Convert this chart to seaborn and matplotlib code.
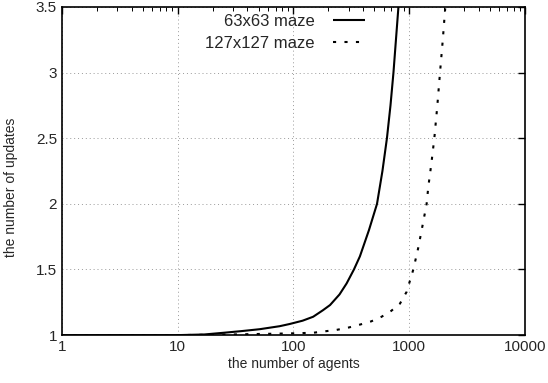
import numpy as np
import pandas as pd
import matplotlib
matplotlib.use("Agg")
import matplotlib.pyplot as plt
import seaborn as sns
from matplotlib.ticker import FixedLocator, LogLocator, NullFormatter

# ── Data ─────────────────────────────────────────────────────────────────────
agents_63 = [1, 10, 17, 25, 35, 51, 76, 93, 120, 148, 180, 207, 250, 288, 333,
             375, 449, 527, 587, 642, 689, 731, 768, 807]
updates_63 = [1.0, 1.0, 1.005, 1.018, 1.03, 1.045, 1.068, 1.085, 1.11, 1.14, 1.19, 1.229, 1.31, 1.394, 1.5,
              1.6, 1.8, 2.0, 2.25, 2.5, 2.75, 3.0, 3.25, 3.5]

agents_127 = [1, 10, 30, 93, 148, 236, 300, 375, 470, 577, 700, 832, 950, 1085,
              1200, 1300, 1414, 1462, 1550, 1648, 1750, 1845, 1950, 2050]
updates_127 = [1.0, 1.0, 1.005, 1.013, 1.018, 1.04, 1.058, 1.08, 1.105, 1.14, 1.185, 1.24, 1.33, 1.5,
               1.67, 1.83, 2.0, 2.13, 2.3, 2.5, 2.75, 3.0, 3.25, 3.5]

labels = ["63x63 maze", "127x127 maze"]
x_ticks = [1, 10, 100, 1000, 10000]
y_ticks = [1, 1.5, 2, 2.5, 3, 3.5]

df = pd.concat([
    pd.DataFrame({"agents": agents_63, "updates": updates_63, "maze": labels[0]}),
    pd.DataFrame({"agents": agents_127, "updates": updates_127, "maze": labels[1]}),
])

sns.set_style("white")
plt.rcParams["font.family"] = ["Liberation Sans", "DejaVu Sans"]

fig = plt.figure(figsize=(5.48, 3.83), dpi=100)
ax = fig.add_axes([0.113, 0.125, 0.845, 0.857])

sns.lineplot(data=df, x="agents", y="updates", hue="maze", style="maze",
             palette=["black", "black"], dashes=[(1, 0), (1.5, 4.0)],
             linewidth=1.5, ax=ax, sort=False)

ax.set_xscale("log")
ax.set_xlim(1, 10000)
ax.set_ylim(1, 3.5)
ax.xaxis.set_major_locator(FixedLocator(x_ticks))
ax.set_xticklabels([str(t) for t in x_ticks])
ax.xaxis.set_minor_locator(LogLocator(base=10, subs=np.arange(2, 10)))
ax.xaxis.set_minor_formatter(NullFormatter())
ax.set_yticks(y_ticks)
ax.set_yticklabels([f"{t:g}" for t in y_ticks])

ax.grid(True, which="major", color="#999999", linestyle=(0, (1, 3)), linewidth=0.7)
ax.tick_params(which="both", direction="in", top=True, right=True, labelsize=11, color="black")
ax.tick_params(which="major", length=5, width=1)
ax.tick_params(which="minor", length=3, width=0.7)
for s in ax.spines.values():
    s.set_color("black")
    s.set_linewidth(1.2)

ax.set_xlabel("the number of agents", fontsize=10, labelpad=2)
ax.set_ylabel("the number of updates", fontsize=10)
ax.yaxis.set_label_coords(-0.095, 0.45)

handles, _ = ax.get_legend_handles_labels()
ax.legend(handles=handles, labels=labels, loc="upper right", bbox_to_anchor=(0.654, 0.978),
          frameon=False, markerfirst=False, handlelength=1.9, handletextpad=1.1,
          fontsize=12, borderpad=0, borderaxespad=0, labelspacing=0.4)

fig.savefig("out.png", dpi=100)
